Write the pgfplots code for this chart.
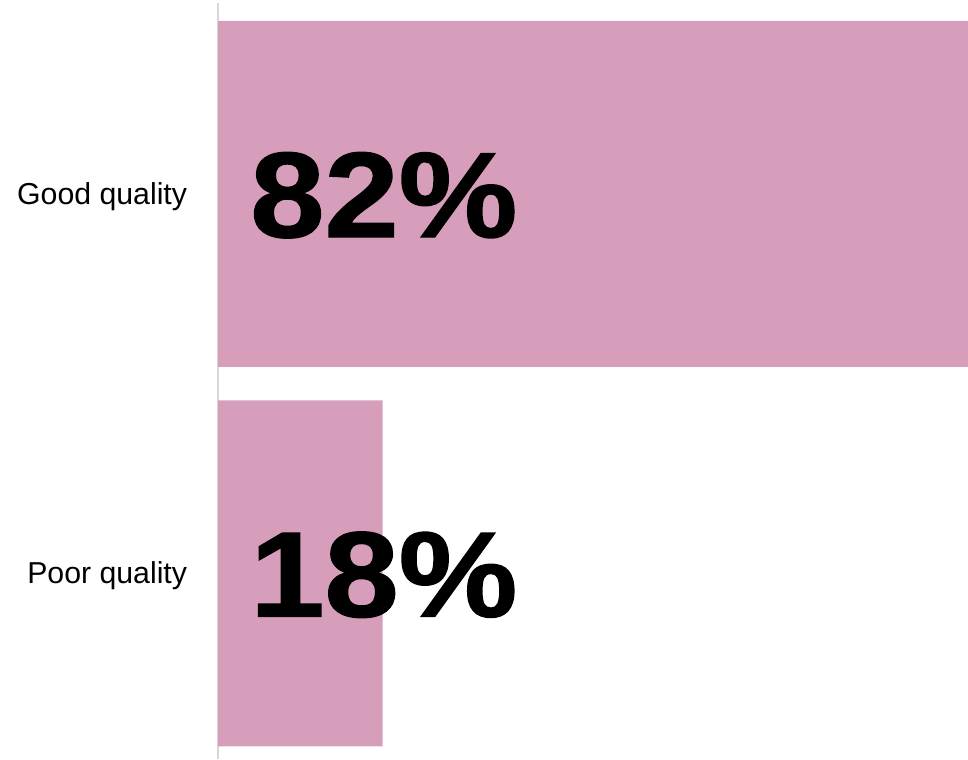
\documentclass[border=0pt]{standalone}
\usepackage{pgfplots}
\pgfplotsset{compat=1.18}
\usepackage{fontspec}
\setmainfont{Liberation Sans}
\newfontfamily\numfont[FakeStretch=1.1,FakeBold=1.2]{Liberation Sans}
\definecolor{barpink}{RGB}{214,158,187}
\definecolor{axgrey}{RGB}{215,215,215}
\begin{document}
\begin{tikzpicture}
\begin{axis}[
  scale only axis,
  width=562.5pt, height=567pt,
  xmin=0, xmax=82,
  ymin=-0.489, ymax=1.503,
  clip=false,
  hide x axis,
  axis y line*=left,
  y axis line style={draw=axgrey, line width=1.5pt, -},
  ytick={0,1},
  yticklabels={Poor quality, Good quality},
  ytick style={draw=none},
  major tick length=0pt,
  yticklabel style={font=\fontsize{22.7}{27}\selectfont, inner sep=0pt, xshift=-23pt, yshift=-2pt},
]
\addplot[xbar, bar width=259.5pt, bar shift=0pt, fill=barpink, draw=none]
  coordinates {(82,1) (18,0)};
\addplot[draw=none, mark=none,
  point meta=explicit symbolic,
  nodes near coords,
  every node near coord/.style={anchor=west, inner sep=0pt, xshift=24pt, yshift=-1pt,
     font=\numfont\bfseries\fontsize{91}{91}\selectfont, text=black}]
  coordinates {(0,1) [82\%] (0,0) [18\%]};
\path[draw=none] (rel axis cs:-0.2907,0) rectangle (rel axis cs:1,1.004);
\end{axis}
\end{tikzpicture}
\end{document}
